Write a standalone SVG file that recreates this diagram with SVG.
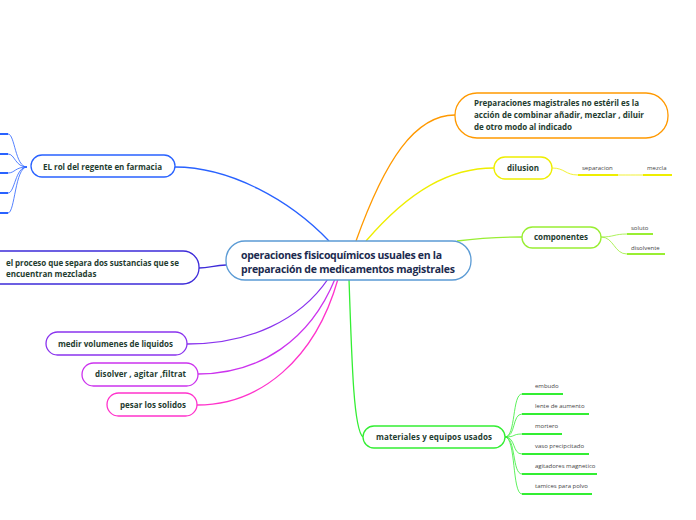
<svg xmlns="http://www.w3.org/2000/svg" width="696" height="520" viewBox="0 0 696 520">
<style>
.n{fill:#fff;stroke-width:1.3}
.t{font-family:"Open Sans","Noto Sans",sans-serif;font-weight:700;font-size:8px;fill:#1f3d30}
.c{font-family:"Open Sans","Noto Sans",sans-serif;font-weight:700;font-size:10.5px;fill:#1c2b4f}
.l{font-family:"Open Sans","Noto Sans",sans-serif;font-size:6px;fill:#444}
.e{fill:none;stroke-width:1.3}
.lf{fill:none;stroke-width:0.8}
.u{fill:none;stroke-width:2}
</style>
<rect width="696" height="520" fill="#fff"/>
<g id="connectors">
<path class="e" stroke="#2962ff" d="M329,241 C290,200 230,167 175,167"/>
<path class="e" stroke="#ff9900" d="M356,241 C385,160 415,115 455,115"/>
<path class="e" stroke="#eeee00" d="M366,241 C410,190 450,168 494,168"/>
<path class="e" stroke="#99ee33" d="M457,241 C480,238 500,237 522,237"/>
<path class="e" stroke="#3d2bd9" d="M226,265 C214,265 210,268 199,268"/>
<path class="e" stroke="#8a33ee" d="M328,279 C300,320 250,344 187,344"/>
<path class="e" stroke="#cc33ee" d="M335,279 C310,340 260,374 198,374"/>
<path class="e" stroke="#ff33cc" d="M338,279 C315,360 260,405 197,405"/>
<path class="e" stroke="#33ee33" d="M349,279 C352,370 354,430 363,437"/>
<g stroke="#2962ff">
<path class="lf" d="M27,167 C15,167 15,134 8,134"/><path class="u" d="M8,134 H0"/>
<path class="lf" d="M27,167 C15,167 15,154 8,154"/><path class="u" d="M8,154 H0"/>
<path class="lf" d="M27,167 C15,167 15,173 8,173"/><path class="u" d="M8,173 H0"/>
<path class="lf" d="M27,167 C15,167 15,193 8,193"/><path class="u" d="M8,193 H0"/>
<path class="lf" d="M27,167 C15,167 15,213 8,213"/><path class="u" d="M8,213 H0"/>
</g>
<g stroke="#eeee00">
<path class="lf" d="M552,168 C565,168 565,175 578,175"/><path class="u" d="M578,175 H618"/>
<path class="lf" d="M618,175 C630,175 631,175 643,175"/><path class="u" d="M643,175 H672"/>
</g>
<g stroke="#99ee33">
<path class="lf" d="M601,237 C614,237 614,234 627,234"/><path class="u" d="M627,234 H653"/>
<path class="lf" d="M601,237 C614,237 614,254 627,254"/><path class="u" d="M627,254 H665"/>
</g>
<g stroke="#33ee33">
<path class="lf" d="M505,437 C516,437 512,394 522,394"/><path class="u" d="M522,394 H563"/>
<path class="lf" d="M505,437 C516,437 512,414 522,414"/><path class="u" d="M522,414 H589"/>
<path class="lf" d="M505,437 C516,437 512,434 522,434"/><path class="u" d="M522,434 H562"/>
<path class="lf" d="M505,437 C516,437 512,454 522,454"/><path class="u" d="M522,454 H589"/>
<path class="lf" d="M505,437 C516,437 512,474 522,474"/><path class="u" d="M522,474 H597"/>
<path class="lf" d="M505,437 C516,437 512,494 522,494"/><path class="u" d="M522,494 H592"/>
</g>
</g>
<g id="central">
<rect class="n" x="226" y="241" width="245" height="39" rx="19" stroke="#5b9bd5"/>
<text class="c" x="241" y="259" textLength="201">operaciones fisicoquímicos usuales en la</text>
<text class="c" x="241" y="273" textLength="214">preparación de medicamentos magistrales</text>
</g>
<g id="preparaciones">
<rect class="n" x="455" y="93" width="213" height="45" rx="22" stroke="#ff9900"/>
<text class="t" x="474" y="106" textLength="165">Preparaciones magistrales no estéril es la</text>
<text class="t" x="474" y="118" textLength="170">acción de combinar añadir, mezclar , diluir</text>
<text class="t" x="474" y="130" textLength="98">de otro modo al indicado</text>
</g>
<g id="dilusion">
<rect class="n" x="494" y="157" width="58" height="22" rx="11" stroke="#eeee00"/>
<text class="t" x="507" y="171" textLength="32">dilusion</text>
</g>
<g id="separacion"><text class="l" x="582" y="170">separacion</text></g>
<g id="mezcla"><text class="l" x="647" y="170">mezcla</text></g>
<g id="componentes">
<rect class="n" x="522" y="227" width="79" height="21" rx="10.5" stroke="#99ee33"/>
<text class="t" x="534" y="240" textLength="54">componentes</text>
</g>
<g id="soluto"><text class="l" x="631" y="230">soluto</text></g>
<g id="disolvente"><text class="l" x="631" y="250">disolvente</text></g>
<g id="rol">
<rect class="n" x="31" y="155" width="144" height="22" rx="11" stroke="#2962ff"/>
<text class="t" x="43" y="170" textLength="119">EL rol del regente en farmacia</text>
</g>
<g id="proceso">
<rect class="n" x="-30" y="251" width="229" height="33" rx="16" stroke="#3d2bd9"/>
<text class="t" x="6" y="266" textLength="173">el proceso que separa dos sustancias que se</text>
<text class="t" x="6" y="277">encuentran mezcladas</text>
</g>
<g id="medir">
<rect class="n" x="46" y="332" width="141" height="23" rx="11.5" stroke="#8a33ee"/>
<text class="t" x="58" y="347" textLength="115">medir volumenes de liquidos</text>
</g>
<g id="disolver">
<rect class="n" x="82" y="363" width="116" height="23" rx="11.5" stroke="#cc33ee"/>
<text class="t" x="95" y="377" textLength="91">disolver , agitar ,filtrat</text>
</g>
<g id="pesar">
<rect class="n" x="107" y="393" width="90" height="23" rx="11.5" stroke="#ff33cc"/>
<text class="t" x="120" y="408" textLength="66">pesar los solidos</text>
</g>
<g id="materiales">
<rect class="n" x="363" y="426" width="142" height="22" rx="11" stroke="#33ee33"/>
<text class="t" x="376" y="440" textLength="116">materiales y equipos  usados</text>
</g>
<g id="embudo"><text class="l" x="535" y="388">embudo</text></g>
<g id="lente"><text class="l" x="535" y="408">lente de aumento</text></g>
<g id="mortero"><text class="l" x="535" y="428">mortero</text></g>
<g id="vaso"><text class="l" x="535" y="448">vaso precipcitado</text></g>
<g id="agitadores"><text class="l" x="535" y="468">agitadores magnetico</text></g>
<g id="tamices"><text class="l" x="535" y="488">tamices para polvo</text></g>
</svg>
